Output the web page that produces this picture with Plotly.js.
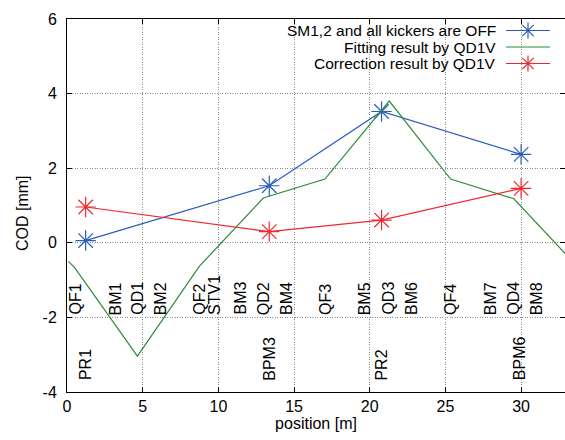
<!DOCTYPE html>
<html>
<head>
<meta charset="utf-8">
<script src="https://cdn.plot.ly/plotly-3.0.1.min.js"></script>
<style>html,body{margin:0;padding:0;background:#fff;}#chart{width:565px;height:440px;}</style>
</head>
<body>
<div id="chart"></div>
<script>
// Measured BPM data
const bpmPos = [1.23, 13.36, 20.78, 30.0];
const codOff = [0.06, 1.53, 3.52, 2.37];
const codCorr = [0.96, 0.30, 0.61, 1.46];
// Fitted orbit (kinks at quadrupoles)
const fitPos = [0.1, 0.53, 4.65, 8.74, 12.97, 17.04, 21.29, 25.34, 29.52, 33.0];
const fitCod = [-0.5, -0.68, -3.04, -0.63, 1.20, 1.71, 3.80, 1.71, 1.18, -0.33];
// Element labels
const elemNames = ["QF1","BM1","QD1","BM2","QF2","STV1","BM3","QD2","BM4","QF3","BM5","QD3","BM6","QF4","BM7","QD4","BM8"];
const elemPos = [0.53,3.17,4.65,6.14,8.74,9.78,11.43,13.0,14.5,17.08,19.68,21.22,22.76,25.34,28.0,29.48,30.98];
const monNames = ["PR1","BPM3","PR2","BPM6"];
const monPos = [1.19,13.36,20.78,29.9];
const seriesNames = ["SM1,2 and all kickers are OFF","Fitting result by QD1V","Correction result by QD1V"];
const colors = ["#2a5db8","#2e8b3c","#f0282d"];

const FONT = "Liberation Sans, Arial, sans-serif";
const FS = 16;
const traces = [
  {x: bpmPos, y: codOff, mode: "lines+markers", line:{color:colors[0], width:1.2},
   marker:{symbol:"asterisk-open", size:17, line:{color:colors[0], width:1.2}}, showlegend:false},
  {x: fitPos, y: fitCod, mode: "lines", line:{color:colors[1], width:1.2}, showlegend:false},
  {x: bpmPos, y: codCorr, mode: "lines+markers", line:{color:colors[2], width:1.2},
   marker:{symbol:"asterisk-open", size:17, line:{color:colors[2], width:1.2}}, showlegend:false}
];

const L = 67, R = 565, T = 19, B = 392;
const px = v => (v - L) / (R - L);
const py = v => (B - v) / (B - T);

const annotations = [];
elemNames.forEach((n,i)=>annotations.push({x:elemPos[i], y:-1.96, xref:"x", yref:"y", text:n, textangle:-90,
  showarrow:false, xanchor:"center", yanchor:"bottom", font:{family:FONT, size:FS, color:"#000"}, borderpad:0}));
monNames.forEach((n,i)=>annotations.push({x:monPos[i], y:-3.72, xref:"x", yref:"y", text:n, textangle:-90,
  showarrow:false, xanchor:"center", yanchor:"bottom", font:{family:FONT, size:FS, color:"#000"}, borderpad:0}));

const shapes = [];
const legY = [30.5, 47, 63.5];
seriesNames.forEach((n,i)=>{
  annotations.push({x:px(497), y:py(legY[i]), xref:"paper", yref:"paper", text:n, showarrow:false,
    xanchor:"right", yanchor:"middle", font:{family:FONT, size:15.5, color:"#000"}, borderpad:0});
  shapes.push({type:"line", xref:"paper", yref:"paper", x0:px(506), x1:px(550), y0:py(legY[i]), y1:py(legY[i]),
    line:{color:colors[i], width:1.2}});
  if (i !== 1) {
    shapes.push({type:"path", xref:"paper", yref:"paper", xsizemode:"pixel", ysizemode:"pixel",
      xanchor:px(528), yanchor:py(legY[i]),
      path:"M-8,0L8,0M0,-8L0,8M-5.7,-5.7L5.7,5.7M-5.7,5.7L5.7,-5.7", line:{color:colors[i], width:1.2}});
  }
});
// y-axis title
annotations.push({x:px(22), y:py(213), xref:"paper", yref:"paper", text:"COD [mm]", textangle:-90, showarrow:false,
  xanchor:"center", yanchor:"middle", font:{family:FONT, size:FS, color:"#000"}});

const layout = {
  width:565, height:440,
  margin:{l:L, r:565-R, t:T, b:440-B, pad:0},
  paper_bgcolor:"#fff", plot_bgcolor:"#fff",
  font:{family:FONT, size:FS, color:"#000"},
  xaxis:{range:[0,32.9], tickvals:[0,5,10,15,20,25,30], ticktext:["0","5","10","15","20","25","30"],
    showgrid:true, gridcolor:"#8c8c8c", griddash:"1px,1.5px", gridwidth:1, zeroline:false,
    showline:true, linecolor:"#000", linewidth:1, mirror:"ticks", ticks:"inside", ticklen:5, tickcolor:"#000",
    tickfont:{family:FONT, size:FS}, title:{text:"position [m]", font:{family:FONT,size:FS}, standoff:2}},
  yaxis:{range:[-4,6], tickvals:[-4,-2,0,2,4,6], ticktext:["-4","-2","0","2","4","6"],
    showgrid:true, gridcolor:"#8c8c8c", griddash:"1px,1.5px", gridwidth:1, zeroline:false,
    showline:true, linecolor:"#000", linewidth:1, mirror:"ticks", ticks:"inside", ticklen:5, tickcolor:"#000",
    ticklabelstandoff:6, tickfont:{family:FONT, size:FS}},
  showlegend:false,
  annotations: annotations,
  shapes: shapes
};
Plotly.newPlot("chart", traces, layout, {displayModeBar:false, staticPlot:true});
</script>
</body>
</html>
